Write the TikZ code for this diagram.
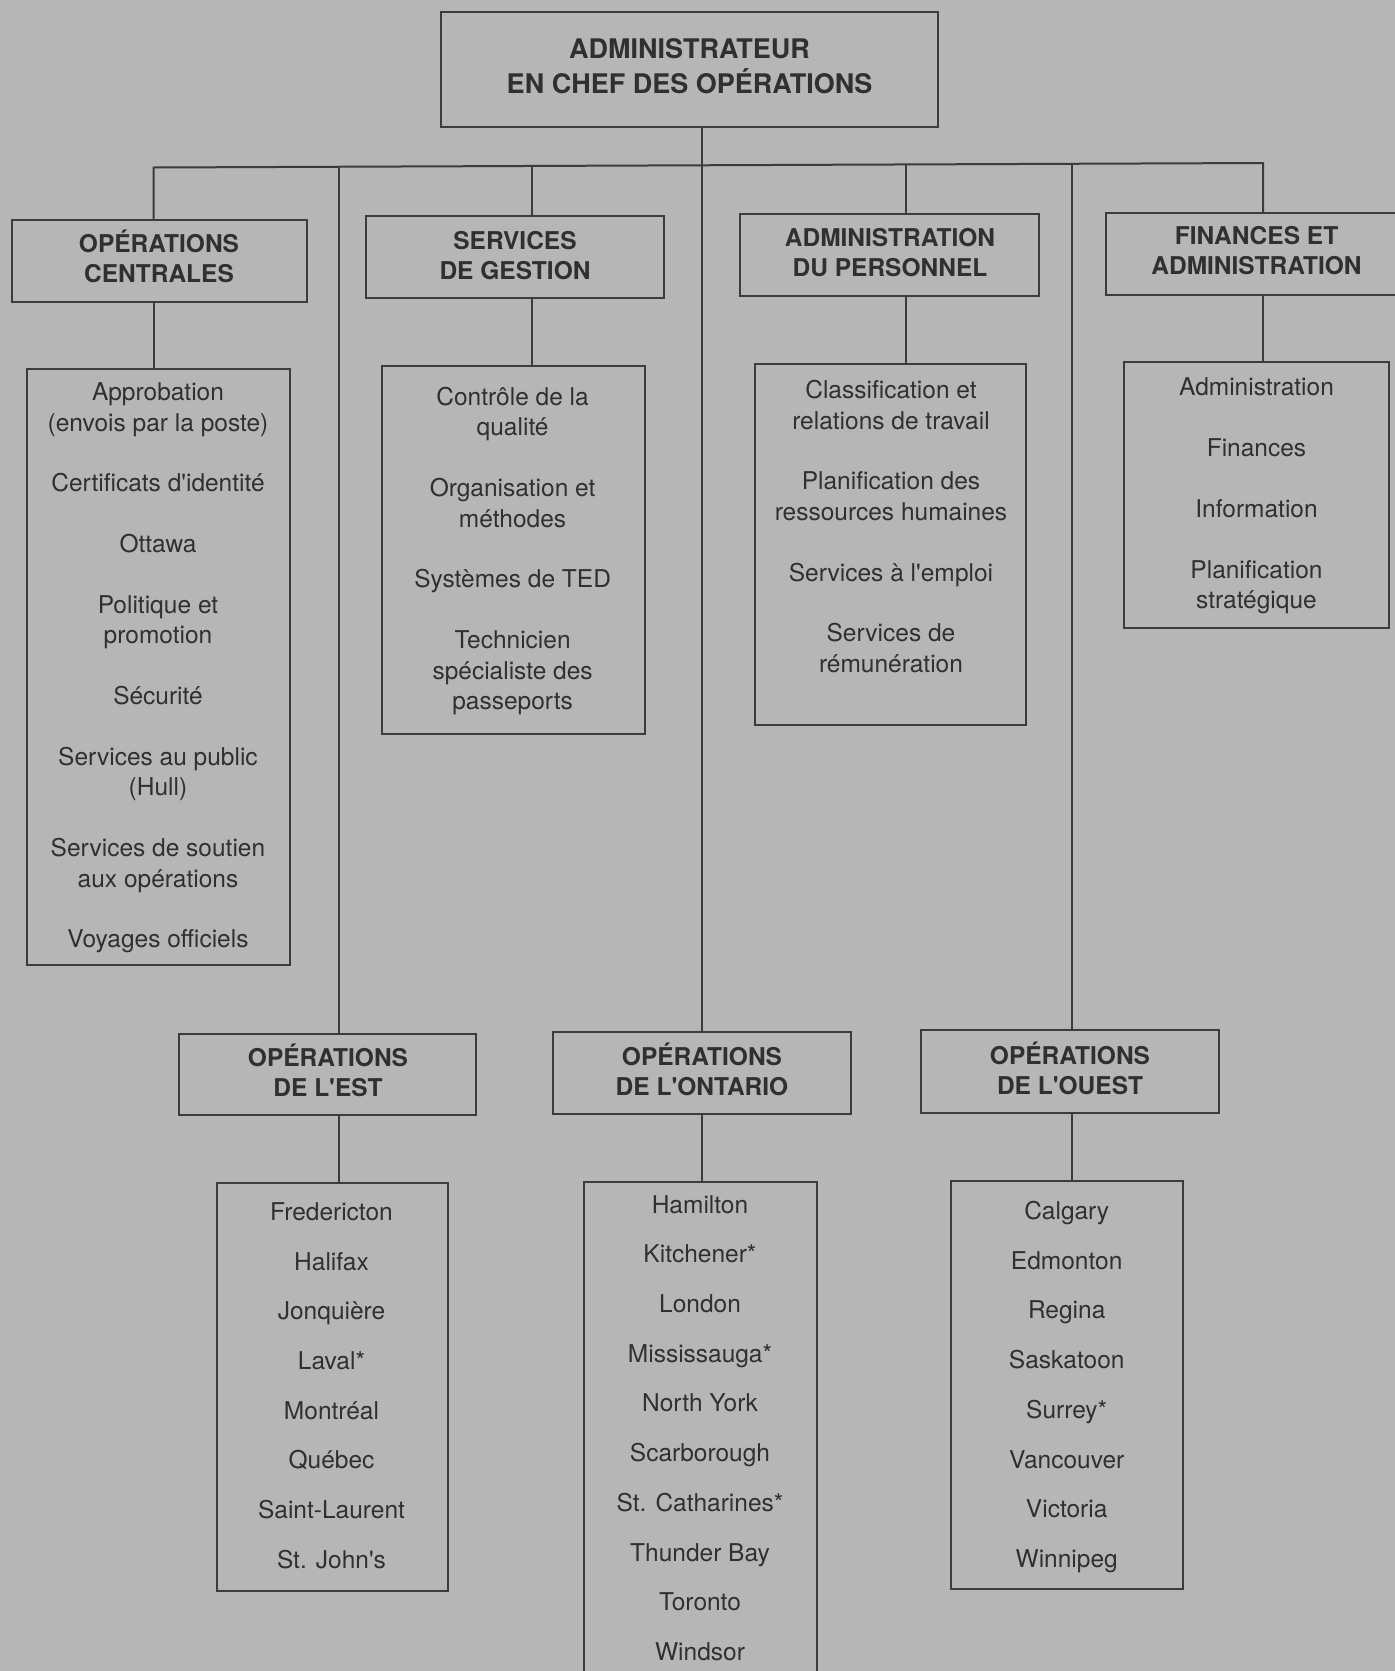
\documentclass[tikz,border=0pt]{standalone}
\usepackage{fontspec}
\setmainfont{TeX Gyre Heros}
\newcommand{\sqt}{\textquotesingle}
\definecolor{bgc}{RGB}{182,182,182}
\definecolor{linec}{RGB}{60,60,60}
\definecolor{txtc}{RGB}{48,48,48}
\tikzset{
  ln/.style={draw=linec, line width=2pt},
  box/.style={draw=linec, line width=2pt, rectangle, inner sep=0pt},
  topfont/.style={font=\bfseries\fontsize{27}{35}\selectfont, text=txtc, align=center, inner sep=0pt},
  head/.style={font=\bfseries\fontsize{24.5}{30}\selectfont, text=txtc, align=center, inner sep=0pt},
  body/.style={font=\fontsize{24.5}{30.4}\selectfont, text=txtc, align=center, inner sep=0pt},
  city/.style={font=\fontsize{24.5}{49.7}\selectfont, text=txtc, align=center, inner sep=0pt},
}
\begin{document}
\begin{tikzpicture}[x=1pt,y=-1pt]
\fill[bgc] (0,0) rectangle (1395,1671);
\useasboundingbox (0,0) rectangle (1395,1671);

% ---- boxes ----
\node[box, minimum width=497pt, minimum height=115pt] (top) at (689.5,69.5) {};
\node[box, minimum width=295pt, minimum height=82pt] (opc) at (159.5,261) {};
\node[box, minimum width=298pt, minimum height=82pt] (sg) at (515,257) {};
\node[box, minimum width=299pt, minimum height=82pt] (ap) at (889.5,255) {};
\node[box, minimum width=302pt, minimum height=82pt] (fa) at (1257,254) {};

\node[box, minimum width=263.4pt, minimum height=596pt] (opcs) at (158.3,667) {};
\node[box, minimum width=263.5pt, minimum height=368.5pt] (sgs) at (513.25,549.75) {};
\node[box, minimum width=271pt, minimum height=361pt] (aps) at (890.5,544) {};
\node[box, minimum width=265pt, minimum height=266pt] (fas) at (1256.5,495) {};

\node[box, minimum width=297pt, minimum height=81pt] (est) at (327.5,1074.5) {};
\node[box, minimum width=298.5pt, minimum height=82pt] (ont) at (702,1073) {};
\node[box, minimum width=298pt, minimum height=83pt] (oue) at (1070,1071.5) {};

\node[box, minimum width=230.6pt, minimum height=408pt] (ests) at (332.3,1387) {};
\node[box, minimum width=232.5pt, minimum height=520pt] (onts) at (700.25,1442) {};
\node[box, minimum width=232.4pt, minimum height=408pt] (oues) at (1066.8,1385) {};

% ---- headings ----
\node[topfont] (topt) at (689.5,66.5) {ADMINISTRATEUR\\EN CHEF DES OPÉRATIONS};
\node[head] (opct) at (159,256) {OPÉRATIONS\\CENTRALES};
\node[head] (sgt) at (515,256) {SERVICES\\DE GESTION};
\node[head] (apt) at (890,252.6) {ADMINISTRATION\\DU PERSONNEL};
\node[head] (fat) at (1256.5,250.5) {FINANCES ET\\ADMINISTRATION};
\node[head] (estt) at (328,1070) {OPÉRATIONS\\DE L\sqt EST};
\node[head] (ontt) at (702,1069) {OPÉRATIONS\\DE L\sqt ONTARIO};
\node[head] (ouet) at (1070,1068) {OPÉRATIONS\\DE L\sqt OUEST};

% ---- lists ----
\node[body] (opcl) at (158,668) {Approbation\\(envois par la poste)\\[30.4pt]Certificats d\sqt identité\\[30.4pt]Ottawa\\[30.4pt]Politique et\\promotion\\[30.4pt]Sécurité\\[30.4pt]Services au public\\(Hull)\\[30.4pt]Services de soutien\\aux opérations\\[30.4pt]Voyages officiels};
\node[body] (sgl) at (512.6,551) {Contrôle de la\\qualité\\[30.4pt]Organisation et\\méthodes\\[30.4pt]Systèmes de TED\\[30.4pt]Technicien\\spécialiste des\\passeports};
\node[body] (apl) at (891,526.6) {Classification et\\relations de travail\\[30.4pt]Planification des\\ressources humaines\\[30.4pt]Services à l\sqt emploi\\[30.4pt]Services de\\rémunération};
\node[body] (fal) at (1256.5,496) {Administration\\[30.4pt]Finances\\[30.4pt]Information\\[30.4pt]Planification\\stratégique};

\node[city] (estl) at (331.5,1385.6) {Fredericton\\Halifax\\Jonquière\\Laval*\\Montréal\\Québec\\Saint-Laurent\\St. John\sqt s};
\node[city] (ontl) at (700,1428) {Hamilton\\Kitchener*\\London\\Mississauga*\\North York\\Scarborough\\St. Catharines*\\Thunder Bay\\Toronto\\Windsor};
\node[city] (ouel) at (1066.7,1387) {Calgary\\Edmonton\\Regina\\Saskatoon\\Surrey*\\Vancouver\\Victoria\\Winnipeg};

% ---- connectors ----
\coordinate (bA) at (153.5,167.5);
\coordinate (bB) at (339,166.8);
\coordinate (bC) at (532,166);
\coordinate (bE) at (906,164.5);
\coordinate (bF) at (1072,163.8);
\coordinate (bG) at (1263,163);

\draw[ln] (bA |- opc.north) -- (bA) -- (bG) -- (bG |- fa.north);
\draw[ln] (top.south -| ont.north) -- (ont.north);
\draw[ln] (bB) -- (bB |- est.north);
\draw[ln] (bC) -- (bC |- sg.north);
\draw[ln] (bE) -- (bE |- ap.north);
\draw[ln] (bF) -- (bF |- oue.north);

\draw[ln] (bA |- opc.south) -- (bA |- opcs.north);
\draw[ln] (bC |- sg.south) -- (bC |- sgs.north);
\draw[ln] (bE |- ap.south) -- (bE |- aps.north);
\draw[ln] (bG |- fa.south) -- (bG |- fas.north);

\draw[ln] (bB |- est.south) -- (bB |- ests.north);
\draw[ln] (ont.south) -- (ont.south |- onts.north);
\draw[ln] (bF |- oue.south) -- (bF |- oues.north);
\end{tikzpicture}
\end{document}
